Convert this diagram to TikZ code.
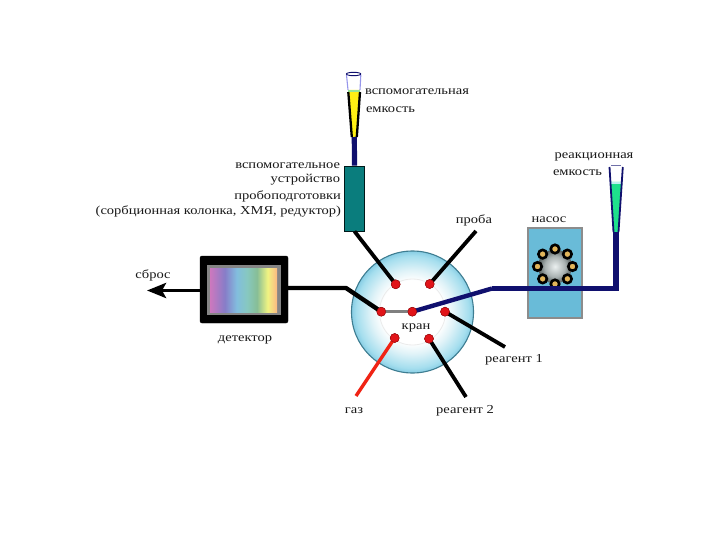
\documentclass[tikz,border=0pt]{standalone}
\usepackage{fontspec}
\setmainfont[FakeStretch=1.19]{Liberation Serif}
\usetikzlibrary{arrows.meta,calc}
\definecolor{navyl}{RGB}{16,16,110}
\definecolor{txt}{RGB}{25,25,25}
\definecolor{rim}{RGB}{62,125,145}
\definecolor{pumpc}{RGB}{105,187,216}
\definecolor{tealc}{RGB}{10,125,125}
\definecolor{vA}{RGB}{225,243,248}
\definecolor{vB}{RGB}{165,222,238}
\definecolor{vC}{RGB}{135,205,228}
\definecolor{sA}{RGB}{205,120,190}
\definecolor{sB}{RGB}{135,125,200}
\definecolor{sC}{RGB}{130,190,222}
\definecolor{sD}{RGB}{135,200,190}
\definecolor{sE}{RGB}{135,190,150}
\definecolor{sF}{RGB}{240,243,130}
\definecolor{sG}{RGB}{252,185,130}
\definecolor{pA1}{RGB}{235,240,240}
\definecolor{pA2}{RGB}{170,178,178}
\definecolor{pA3}{RGB}{85,95,95}
\definecolor{yelw}{RGB}{255,240,20}
\definecolor{gtop}{RGB}{150,230,150}
\definecolor{greenf}{RGB}{30,225,140}
\definecolor{ctop}{RGB}{190,240,240}
\definecolor{wall}{RGB}{150,150,235}
\definecolor{gold}{RGB}{225,180,90}
\definecolor{portred}{RGB}{225,20,25}
\definecolor{gasred}{RGB}{240,35,20}
\pgfdeclareradialshading{valveshade}{\pgfpoint{0bp}{0bp}}{
  color(0bp)=(white); color(13bp)=(white); color(17bp)=(vA);
  color(23bp)=(vB); color(25bp)=(vC); color(50bp)=(vC)}
\pgfdeclarehorizontalshading{spectrum}{50bp}{
  color(0bp)=(sA); color(25bp)=(sA); color(36bp)=(sB); color(45bp)=(sC); color(53bp)=(sD);
  color(60bp)=(sE); color(68bp)=(sF); color(75bp)=(sG); color(100bp)=(sG)}
\pgfdeclareradialshading{pumpshade}{\pgfpoint{0bp}{0bp}}{
  color(0bp)=(pA1); color(15bp)=(pA2); color(25bp)=(pA3); color(50bp)=(pA3)}
\tikzset{
  lbl/.style={font=\fontsize{12.2}{14}\selectfont, text=txt, inner sep=0pt, outer sep=0pt, yshift=-2pt},
  port/.style={circle, fill=portred, draw=portred!65!black, line width=0.4pt, minimum size=9pt, inner sep=0pt},
  blackline/.style={line width=3.8pt, black},
  navyline/.style={line width=5.2pt, navyl, line join=miter},
  roller/.style={circle, fill=gold, draw=black, line width=2.6pt, minimum size=8.5pt, inner sep=0pt}
}
\begin{document}
\begin{tikzpicture}[x=1pt,y=-1pt]
\useasboundingbox[fill=white] (0,0) rectangle (720,540);
% valve
\shade[shading=valveshade] (412.5,312) circle (61);
\draw[rim, line width=1.1pt] (412.5,312) circle (61);
\draw[black!8, line width=0.8pt] (412.5,312) circle (33);
% named anchors
\coordinate (probaEnd) at (476,231);
\coordinate (r1End) at (505,347);
\coordinate (r2End) at (466,397);
\coordinate (gasEnd) at (356,396);
\coordinate (bendL) at (346,288);
\coordinate (bendR) at (492,288.5);
\coordinate (corner) at (616,288.5);
\coordinate (waste) at (147,290.5);
% pump
\node[draw=black!45, fill=pumpc, line width=1.2pt, minimum width=54pt, minimum height=90pt, inner sep=0pt] (pump) at (555,273) {};
\shade[shading=pumpshade] (555,266.5) circle (17);
\foreach \a in {0,45,...,315}{\node[roller] at ($(555,266.5)+(\a:17.5)$) {};}
% detector
\node[draw=black, fill=black, rounded corners=2pt, minimum width=88pt, minimum height=67pt, inner sep=0pt] (det) at (244,289.5) {};
\fill[black!48] (207,265) rectangle (281,315);
\shade[shading=spectrum] (210,268) rectangle (277,312);
% column
\node[draw=black!80!teal, fill=tealc, line width=0.7pt, minimum width=19.5pt, minimum height=65pt, inner sep=0pt] (col) at (354.5,198.5) {};
% aux vessel
\coordinate (auxTip) at (354.3,137);
\fill[yelw] (348.2,90) -- (360,90) -- (356.7,137) -- (352,137) -- cycle;
\fill[gtop] (348.1,90) rectangle (360.1,92.5);
\draw[wall, line width=1.1pt] (346.5,75) -- (348,90);
\draw[wall, line width=1.1pt] (360.8,75) -- (360,90);
\draw[black, line width=2.3pt] (348.3,92) -- (351.8,137);
\draw[black, line width=2.3pt] (360,92) -- (356.8,137);
\draw[navyl, line width=0.9pt] (353.6,74) ellipse (7.2 and 1.7);
% reaction vessel
\coordinate (reactTip) at (616,232);
\fill[greenf] (610.8,182) -- (622.2,182) -- (618,232) -- (614,232) -- cycle;
\fill[ctop] (610.8,182) rectangle (622.2,184);
\draw[navyl, line width=1.8pt] (609.5,167) -- (613.5,232);
\draw[navyl, line width=1.8pt] (622.8,167) -- (618.5,232);
\draw[navyl!60!white, line width=1.6pt] (611,165.5) -- (621,165.5);
% connectors
\draw[navyline] (auxTip) -- (col.north);
\node[port] (pA) at (395.7,284.3) {};
\node[port] (pB) at (429.7,284) {};
\node[port] (pC) at (381.3,311.7) {};
\node[port] (pD) at (412.3,311.7) {};
\node[port] (pE) at (445,311.7) {};
\node[port] (pF) at (394.7,338) {};
\node[port] (pG) at (429,338.7) {};
\draw[blackline] (col.south) -- (pA.center);
\draw[blackline] (pB.center) -- (probaEnd);
\draw[blackline] (pE.center) -- (r1End);
\draw[blackline] (pG.center) -- (r2End);
\draw[line width=3.4pt, gasred] (pF.center) -- (gasEnd);
\draw[line width=3.2pt, black!50] (pC.center) -- (pD.center);
\draw[blackline, line width=4.4pt, line join=round] (det.east) ++(0,-1.5) -- (bendL) -- (pC.center);
\draw[-{Stealth[length=19pt,width=15pt,inset=4pt]}, line width=3.8pt] (det.west) ++(0,1) -- (waste);
\draw[line width=4.4pt, navyl] (pD.center) -- (bendR);
\draw[navyline] (bendR) -- (corner) -- (reactTip);
% ports on top
\foreach \p in {pA,pB,pC,pD,pE,pF,pG}{\node[port] at (\p) {};}
% labels
\node[lbl, anchor=west] (t1) at (365,90) {вспомогательная};
\node[lbl, anchor=west] (t2) at (366,108) {емкость};
\node[lbl, anchor=east] (t3) at (340,164) {вспомогательное};
\node[lbl, anchor=east] (t4) at (340,178) {устройство};
\node[lbl, anchor=east] (t5) at (341,194) {пробоподготовки};
\node[lbl, anchor=east] (t6) at (341,209) {(сорбционная колонка, ХМЯ, редуктор)};
\node[lbl] (t7) at (474,218) {проба};
\node[lbl] (t8) at (549,218) {насос};
\node[lbl] (t9) at (594,155) {реакционная};
\node[lbl, anchor=west] (t10) at (553,171) {емкость};
\node[lbl] (t11) at (153,273) {сброс};
\node[lbl] (t12) at (245,338) {детектор};
\node[lbl] (t13) at (416,326) {кран};
\node[lbl] (t14) at (514,358) {реагент 1};
\node[lbl] (t15) at (465,409) {реагент 2};
\node[lbl] (t16) at (354,409) {газ};
\end{tikzpicture}
\end{document}
